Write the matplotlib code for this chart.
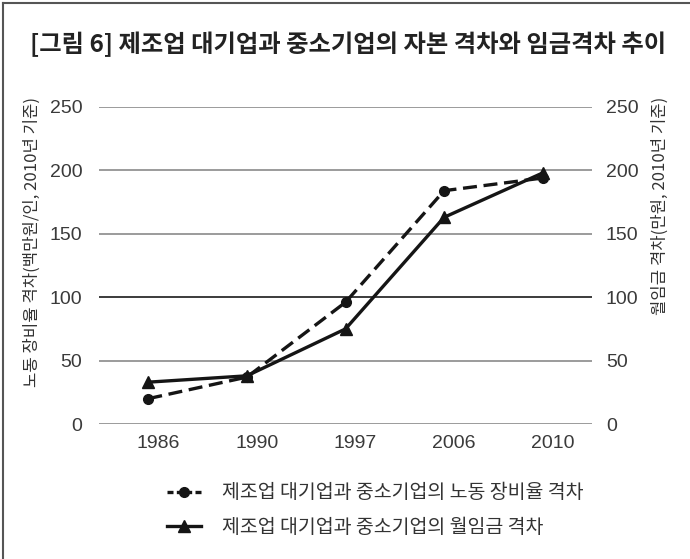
import matplotlib

matplotlib.use("Agg")
import matplotlib.pyplot as plt
import matplotlib.transforms as mtransforms
from matplotlib.lines import Line2D

plt.rcParams["font.family"] = ["Noto Sans CJK KR", "DejaVu Sans"]

# data
years = ["1986", "1990", "1997", "2006", "2010"]
labor_equip_gap = [20, 37, 96, 184, 194]   # 노동 장비율 격차 (백만원/인)
wage_gap = [33, 38, 75, 163, 198]          # 월임금 격차 (만원)
yticks = [0, 50, 100, 150, 200, 250]

title = "[그림 6] 제조업 대기업과 중소기업의 자본 격차와 임금격차 추이"
ylabel_left = "노동 장비율 격차(백만원/인, 2010년 기준)"
ylabel_right = "월임금 격차(만원, 2010년 기준)"
leg_labels = ["제조업 대기업과 중소기업의 노동 장비율 격차",
              "제조업 대기업과 중소기업의 월임금 격차"]

fig = plt.figure(figsize=(6.9, 5.59), dpi=100)
ax = fig.add_axes([0.1435, 0.2415, 0.7145, 0.5671])
ax2 = ax.twinx()

x = range(len(years))
ink = "#151515"
ax.plot(x, labor_equip_gap, color=ink, lw=2.4, ls=(0, (4.2, 2.0)),
        marker="o", ms=7, zorder=3)
ax2.plot(x, wage_gap, color=ink, lw=2.4, marker="^", ms=8.5, zorder=3)

for a in (ax, ax2):
    a.set_ylim(0, 250)
    a.set_yticks(yticks)
    a.set_xlim(-0.5, len(years) - 0.5)
    for s in a.spines.values():
        s.set_visible(False)
    a.tick_params(length=0, labelsize=14, labelcolor="#3a3a3a")

# horizontal gridlines
for v in yticks:
    ax.axhline(v, color="#1a1a1a" if v == 100 else "#8a8a8a", lw=1.2, zorder=1)

ax.tick_params(axis="y", pad=12)
ax2.tick_params(axis="y", pad=10)
ax.set_xticks(list(x))
ax.set_xticklabels(years)
ax.tick_params(axis="x", pad=8)
shift = mtransforms.ScaledTranslation(10 / 100, 0, fig.dpi_scale_trans)
for lab in ax.get_xticklabels():
    lab.set_transform(lab.get_transform() + shift)
for a in (ax, ax2):
    for lab in a.get_xticklabels() + a.get_yticklabels():
        lab.set_fontfamily("Liberation Sans")

fig.text(0.505, 0.921, title, ha="center", va="center", fontsize=17.5,
         fontweight="bold", color="#222222")
fig.text(0.047, 0.8265, ylabel_left, rotation=90, ha="center", va="top",
         fontsize=12, color="#333333")
fig.text(0.957, 0.8265, ylabel_right, rotation=90, ha="center", va="top",
         fontsize=12, color="#333333")

handles = [
    Line2D([], [], color=ink, lw=2.4, ls=(0, (1.8, 1.0)), marker="o", ms=7),
    Line2D([], [], color=ink, lw=2.4, marker="^", ms=8.5),
]
fig.legend(handles, leg_labels, loc="center left", bbox_to_anchor=(0.242, 0.0877),
           frameon=False, fontsize=14, handlelength=1.75, handletextpad=1.1,
           labelspacing=0.68, borderpad=0, borderaxespad=0, labelcolor="#333333")

# partial frame (top and left edges) as in the source image
fig.add_artist(Line2D([0.004, 1.0], [0.995, 0.995], color="#555555", lw=1.5,
                      transform=fig.transFigure))
fig.add_artist(Line2D([0.004, 0.004], [0.0, 0.995], color="#555555", lw=1.5,
                      transform=fig.transFigure))

fig.savefig("out.png", dpi=100)
